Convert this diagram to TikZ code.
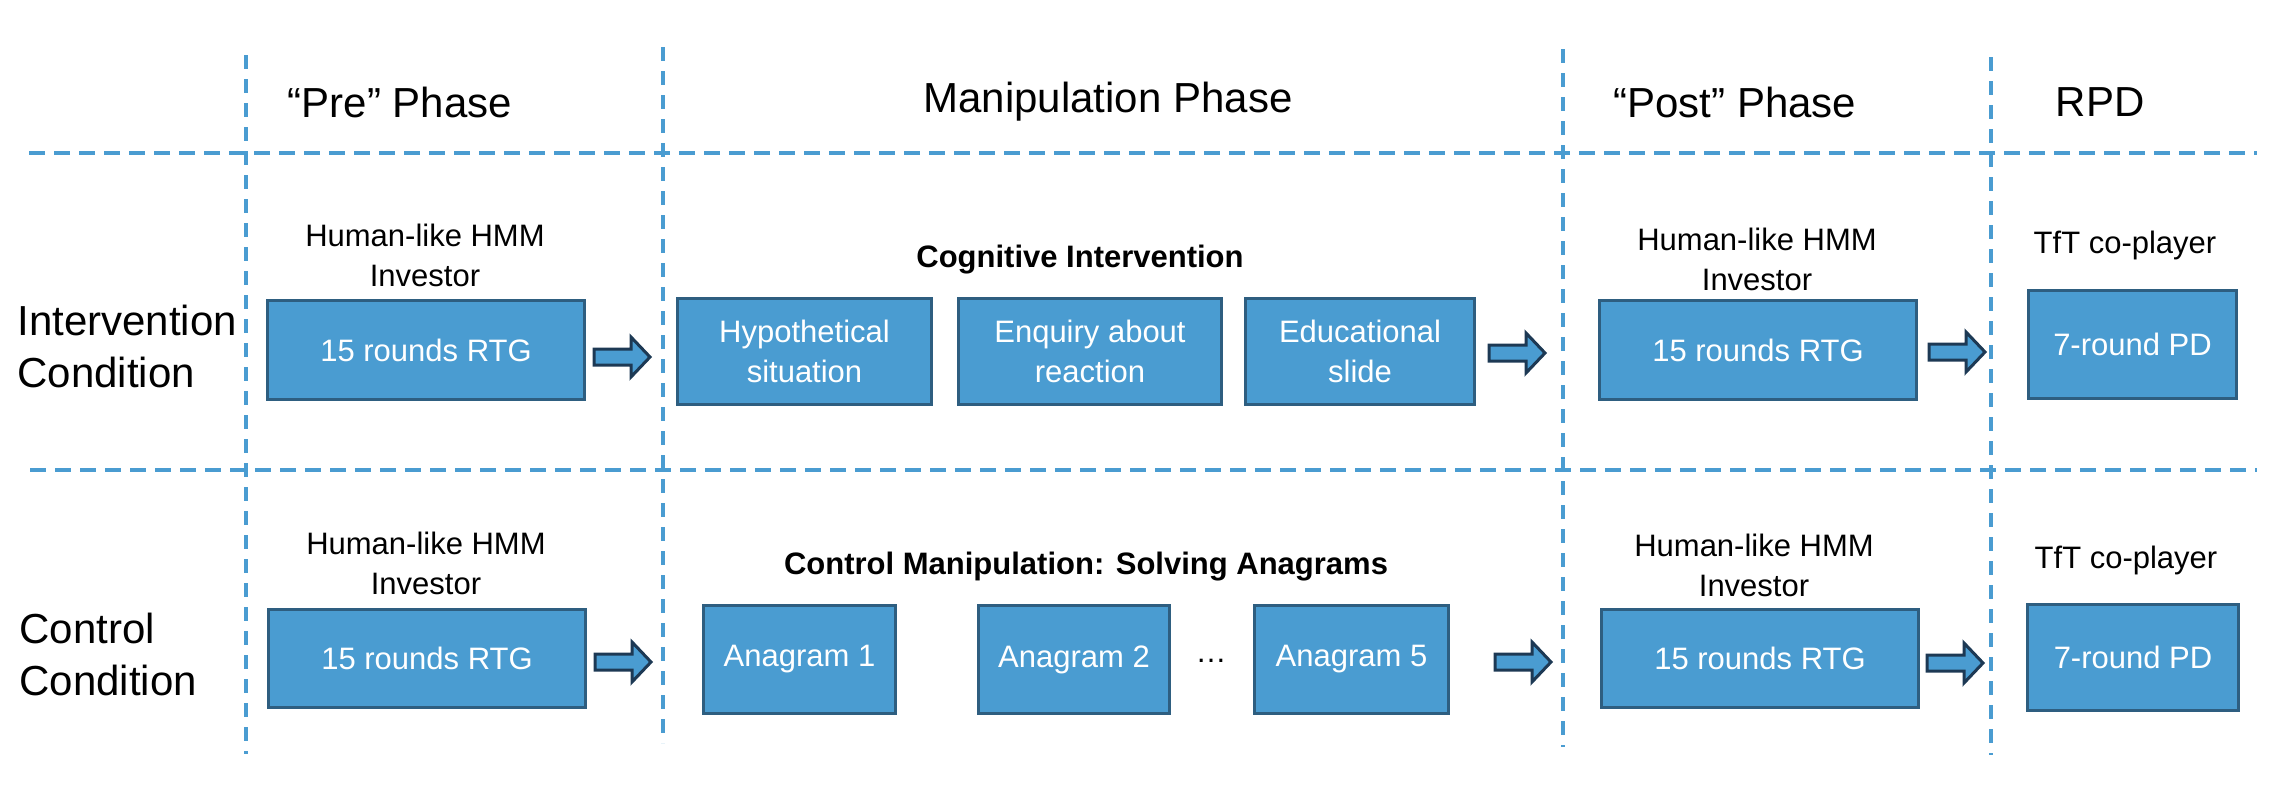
\documentclass[tikz,border=0pt]{standalone}
\usepackage{fontspec}
\setmainfont{Liberation Sans}
\definecolor{boxfill}{RGB}{74,156,209}
\definecolor{boxline}{RGB}{46,94,128}
\definecolor{arrline}{RGB}{29,57,84}
\definecolor{dashc}{RGB}{74,156,209}
\tikzset{
  box/.style={draw=boxline, fill=boxfill, line width=1.5pt, text=white, inner sep=0pt, align=center, font=\fontsize{15.5}{20}\selectfont},
  lbl/.style={align=center, inner sep=0pt, font=\fontsize{15.5}{20}\selectfont},
  headtxt/.style={inner sep=0pt, font=\fontsize{21}{26}\selectfont},
  rowlbl/.style={align=left, anchor=west, inner sep=0pt, font=\fontsize{21}{26}\selectfont},
  ttl/.style={inner sep=0pt, font=\bfseries\fontsize{15.5}{20}\selectfont},
  vdash/.style={draw=dashc, line width=1.75pt, dash pattern=on 7pt off 5pt},
  hdash/.style={draw=dashc, line width=2pt, dash pattern=on 8pt off 4.5pt},
  barrow/.pic={\draw[draw=arrline, fill=boxfill, line width=1.5pt, line join=miter]
     (0,-8) -- (37,-8) -- (37,-20) -- (56,0) -- (37,20) -- (37,8) -- (0,8) -- cycle;},
}
\begin{document}
\begin{tikzpicture}[x=0.5pt,y=-0.5pt]
\useasboundingbox (0,0) rectangle (2276,794);
% grid lines
\coordinate (h1a) at (29,153);  \coordinate (h1b) at (2257,153);
\coordinate (h2a) at (30,470);  \coordinate (h2b) at (2257,470);
\coordinate (v1a) at (246,55);  \coordinate (v1b) at (246,754);
\coordinate (v2a) at (663,47);  \coordinate (v2b) at (663,743);
\coordinate (v3a) at (1563,49); \coordinate (v3b) at (1563,747);
\coordinate (v4a) at (1991,57); \coordinate (v4b) at (1991,755);
\draw[vdash] (v1a) -- (v1b);
\draw[vdash] (v2a) -- (v2b);
\draw[vdash] (v3a) -- (v3b);
\draw[vdash] (v4a) -- (v4b);
\draw[hdash] (h1a) -- (h1b);
\draw[hdash] (h2a) -- (h2b);
% headers
\node[headtxt] (hpre)  at (400,102)  {“Pre” Phase};
\node[headtxt] (hman)  at (1108,102) {Manipulation Phase};
\node[headtxt] (hpost) at (1735,102) {“Post” Phase};
\node[headtxt] (hrpd)  at (2100,102) {RPD};
% row labels
\node[rowlbl] (rint) at (17,346) {Intervention\\Condition};
\node[rowlbl] (rcon) at (19,654) {Control\\Condition};
% row 1
\node[lbl] (inv1a) at (425,255) {Human-like HMM\\Investor};
\node[box, minimum width=158.5pt, minimum height=49.5pt] (pre1) at (426,350) {15 rounds RTG};
\node[ttl] (cogt) at (1080,260) {Cognitive Intervention};
\node[box, minimum width=127pt, minimum height=53pt] (hyp) at (804.5,351.5) {Hypothetical\\situation};
\node[box, minimum width=131.5pt, minimum height=53pt] (enq) at (1090,351.5) {Enquiry about\\reaction};
\node[box, minimum width=114.5pt, minimum height=53pt] (edu) at (1360,351.5) {Educational\\slide};
\node[lbl] (inv1b) at (1757,259) {Human-like HMM\\Investor};
\node[box, minimum width=158.5pt, minimum height=49.5pt] (post1) at (1758,350) {15 rounds RTG};
\node[lbl] (tft1) at (2125,245) {TfT co-player};
\node[box, minimum width=104pt, minimum height=54pt] (pd1) at (2132.5,344.5) {7-round PD};
\pic at (594,357) {barrow};
\pic at (1489,353) {barrow};
\pic at (1929,352) {barrow};
% row 2
\node[lbl] (inv2a) at (426,563) {Human-like HMM\\Investor};
\node[box, minimum width=158.5pt, minimum height=49pt] (pre2) at (427,658.5) {15 rounds RTG};
\node[ttl] (cont) at (1086,567) {Control Manipulation: Solving Anagrams};
\node[box, minimum width=96pt, minimum height=54pt] (an1) at (799.5,659.5) {Anagram 1};
\node[box, minimum width=95.5pt, minimum height=54pt] (an2) at (1074,659.5) {Anagram 2};
\node[lbl] (dots) at (1211,661) {…};
\node[box, minimum width=97pt, minimum height=54pt] (an5) at (1351.5,659.5) {Anagram 5};
\node[lbl] (inv2b) at (1754,565) {Human-like HMM\\Investor};
\node[box, minimum width=158.5pt, minimum height=49pt] (post2) at (1760,658.5) {15 rounds RTG};
\node[lbl] (tft2) at (2126,560) {TfT co-player};
\node[box, minimum width=105.5pt, minimum height=53pt] (pd2) at (2133,657.5) {7-round PD};
\pic at (595,662) {barrow};
\pic at (1495,662) {barrow};
\pic at (1927,663) {barrow};
\end{tikzpicture}
\end{document}
